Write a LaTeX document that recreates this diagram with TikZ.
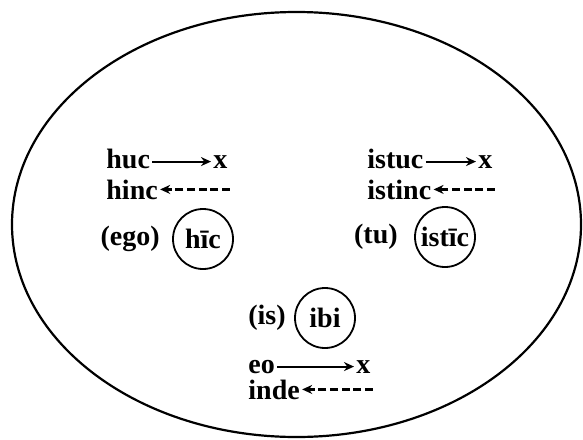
\documentclass[tikz,border=0pt]{standalone}
\usepackage{fontspec}
\setmainfont{Liberation Serif}
\usetikzlibrary{arrows.meta,positioning}

\begin{document}
\begin{tikzpicture}[x=0.5pt,y=-0.5pt,
    every node/.style={font=\fontsize{14}{16}\selectfont\bfseries, inner sep=1pt},
    place/.style={circle, draw, line width=0.9pt, minimum size=30pt, inner sep=0pt},
    goarrow/.style={-{Stealth[length=5pt,width=4.5pt]}, line width=1pt},
    backarrow/.style={-{Stealth[length=5pt,width=4.5pt]}, line width=1.1pt, dash pattern=on 4pt off 1.8pt}]
  \useasboundingbox (0,0) rectangle (583,439);
  \draw[line width=1.1pt] (296.5,224.5) ellipse [x radius=284.5, y radius=212.5];
  % ego / hic
  \node[anchor=base west] (huc) at (104,168) {huc};
  \node[anchor=base west] (hucx) at (211,168) {x};
  \node[anchor=base west] (hinc) at (104,199) {hinc};
  \draw[goarrow] (huc.east |- hucx) -- (hucx);
  \draw[backarrow] (hinc.east -| hucx.east) -- (hinc.east);
  \node[place] (hic) at (203,239) {hīc};
  \node[left=5pt of hic] (ego) {(ego)};
  % tu / istic
  \node[anchor=base west] (istuc) at (365,168) {istuc};
  \node[anchor=base west] (istucx) at (476,168) {x};
  \node[anchor=base west] (istinc) at (365,199) {istinc};
  \draw[goarrow] (istuc.east |- istucx) -- (istucx);
  \draw[backarrow] (istinc.east -| istucx.east) -- (istinc.east);
  \node[place] (istic) at (445,237) {istīc};
  \node[left=7pt of istic] (tu) {(tu)};
  % is / ibi
  \node[place] (ibi) at (325,318) {ibi};
  \node[left=3pt of ibi] (is) {(is)};
  \node[anchor=base west] (eo) at (246,373) {eo};
  \node[anchor=base west] (eox) at (354,373) {x};
  \node[anchor=base west] (inde) at (246,399) {inde};
  \draw[goarrow] (eo.east |- eox) -- (eox);
  \draw[backarrow] (inde.east -| eox.east) -- (inde.east);
\end{tikzpicture}
\end{document}
